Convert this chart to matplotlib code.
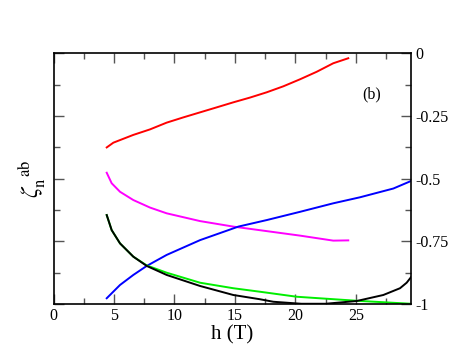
import matplotlib
matplotlib.use('Agg')
import matplotlib.pyplot as plt
from matplotlib.ticker import MultipleLocator

plt.rcParams['font.family'] = 'Liberation Serif'
plt.rcParams['mathtext.fontset'] = 'stix'

# values
h_red = [4.40, 4.95, 6.60, 7.98, 9.36, 10.74, 12.12, 13.50, 14.87, 16.25, 17.63, 19.01, 20.39, 21.77, 23.14, 24.38]
z_red = [-0.375, -0.356, -0.325, -0.303, -0.276, -0.255, -0.235, -0.215, -0.195, -0.176, -0.155, -0.131, -0.103, -0.073, -0.039, -0.019]

h_mag = [4.40, 4.81, 5.50, 6.60, 7.98, 9.36, 12.12, 14.87, 17.63, 20.39, 23.14, 24.38]
z_mag = [-0.476, -0.518, -0.552, -0.585, -0.615, -0.638, -0.669, -0.691, -0.709, -0.727, -0.747, -0.746]

h_blue = [4.40, 5.50, 6.60, 7.71, 9.36, 12.12, 15.29, 17.63, 20.39, 23.14, 25.35, 28.11, 29.57]
z_blue = [-0.977, -0.924, -0.884, -0.848, -0.804, -0.745, -0.691, -0.665, -0.632, -0.598, -0.574, -0.539, -0.509]

h_green = [4.40, 4.81, 5.50, 6.60, 7.71, 9.36, 12.12, 14.87, 17.08, 20.12, 25.08, 29.57]
z_green = [-0.645, -0.705, -0.758, -0.811, -0.846, -0.875, -0.915, -0.937, -0.951, -0.971, -0.987, -0.999]

h_black = [4.40, 4.81, 5.50, 6.60, 7.71, 9.36, 12.12, 14.87, 17.08, 18.18, 20.5, 22.5, 25.08, 27.28, 28.66, 29.21, 29.57]
z_black = [-0.645, -0.705, -0.758, -0.811, -0.848, -0.884, -0.928, -0.964, -0.981, -0.991, -0.999, -0.999, -0.988, -0.964, -0.937, -0.915, -0.893]

fig = plt.figure(figsize=(4.63, 3.58), dpi=100)
ax = fig.add_axes([0.1156, 0.1508, 0.7721, 0.6998])

lw = 1.4
ax.plot(h_red, z_red, color='red', lw=lw)
ax.plot(h_mag, z_mag, color='magenta', lw=lw)
ax.plot(h_blue, z_blue, color='blue', lw=lw)
ax.plot(h_green, z_green, color='#00ee00', lw=lw)
ax.plot(h_black, z_black, color='black', lw=lw)

ax.set_xlim(0, 29.57)
ax.set_ylim(-1, 0)
ax.xaxis.set_major_locator(MultipleLocator(5))
ax.xaxis.set_minor_locator(MultipleLocator(2.5))
ax.yaxis.set_minor_locator(MultipleLocator(0.125))
ax.set_yticks([-1, -0.75, -0.5, -0.25, 0])
ax.set_yticklabels(['-1', '-0.75', '-0.5', '-0.25', '0'])

ax.tick_params(which='both', direction='in', top=True, bottom=True, left=True, right=True,
               labelleft=False, labelright=True, labelsize=11.5, width=1, color='#555555')
ax.tick_params(which='major', length=7, pad=3)
ax.tick_params(which='minor', length=4)
for s in ax.spines.values():
    s.set_linewidth(1.2)

ax.set_xlabel('h (T)', fontsize=15, labelpad=1)
ax.set_ylabel(r'$\zeta_{\rm n}^{\ \ \rm ab}$', fontsize=17, labelpad=4)
ax.text(26.3, -0.162, '(b)', fontsize=11.5, ha='center', va='center')

fig.savefig('out.png', dpi=100)
